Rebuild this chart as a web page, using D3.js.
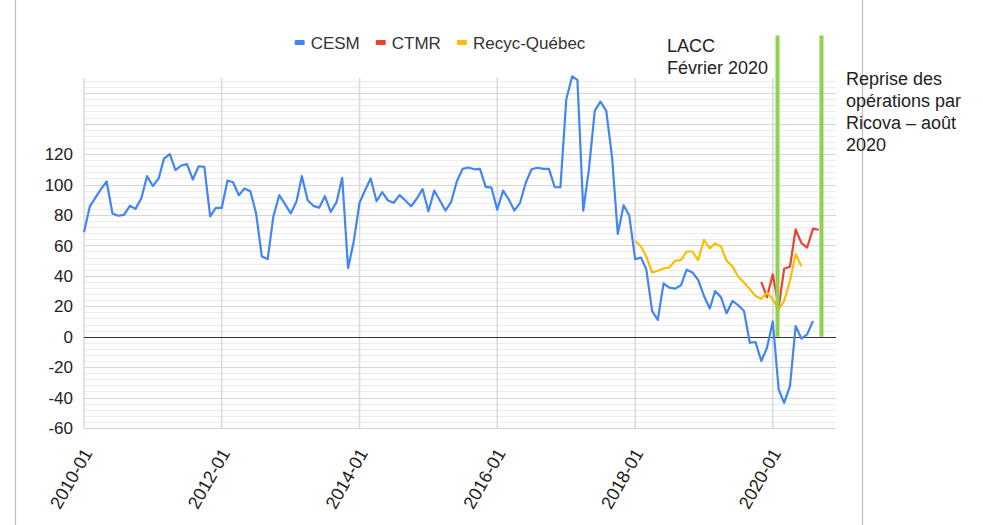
<!DOCTYPE html>
<html>
<head>
<meta charset="utf-8">
<script src="https://cdn.jsdelivr.net/npm/d3@7"></script>
<style>
  body { margin: 0; background: #fff; }
  text { font-family: "Liberation Sans", Arial, sans-serif; fill: #222; }
</style>
</head>
<body>
<div id="chart"></div>
<script>
// monthly values, starting month given per series
var cesmStart = "2010-01";
var cesm = [
  68.6, 85.7, 91, 97, 102, 81, 79.5, 80, 86, 84, 91, 105.5,
  99, 104, 117, 120, 109.5, 112.5, 113.4, 103.3, 112, 111.6, 79, 84.6,
  84.6, 102.6, 101.5, 93, 97.4, 95.6, 81.3, 52.7, 51, 79, 93, 87.3,
  81, 89, 105.5, 89.7, 86, 84.8, 92.3, 82, 88.4, 104.4, 45, 62.6,
  88, 96.7, 104, 89, 95, 89.5, 88, 93, 89.5, 85.7, 90.8, 97,
  82.4, 96, 90, 82.9, 88.4, 102.2, 110.3, 111.2, 110, 110.3, 98.5, 98,
  83.5, 96, 90.5, 82.9, 88, 101.5, 110, 111, 110.3, 110.3, 98.2, 98.2,
  156, 171, 168.8, 82.9, 110, 148.4, 154.5, 148.4, 117.6, 67.5, 86.4, 79.6,
  51, 52, 44.4, 17, 11, 35, 32.3, 31.6, 33.8, 44, 42.2, 37.4,
  26.8, 18.5, 30, 26, 15.4, 23.5, 20.7, 17, -4, -3.5, -16, -7.3,
  10, -34.7, -43.5, -32.5, 7, -1.3, 1.5, 10.3
];
var ctmrStart = "2019-11";
var ctmr = [36, 26, 41, 19, 44.6, 46, 70.5, 61.5, 58.5, 71, 70.3];
var recycStart = "2018-01";
var recyc = [
  63, 59.3, 52.7, 42.2, 43.3, 44.8, 45.5, 49.9, 50.3, 56, 56, 50.3,
  63.7, 58, 61.3, 59.3, 49.9, 46.2, 39.6, 35.6, 31.2, 26.8, 25, 29,
  24.6, 18, 23.5, 36.7, 54.3, 46.2
];
var seriesNames = ["CESM", "CTMR", "Recyc-Québec"];
var seriesColors = ["#4285f4", "#ea4335", "#fbbc04"];

var yTickValues = [-60, -40, -20, 0, 20, 40, 60, 80, 100, 120];
var xTickDates = ["2010-01", "2012-01", "2014-01", "2016-01", "2018-01", "2020-01"];

// vertical event markers
var markerDates = ["2020-01-26", "2020-09-15"];
var markerTop = 198;
var noteLacc = ["LACC", "Février 2020"];
var noteRicova = ["Reprise des", "opérations par", "Ricova – août", "2020"];

var W = 983, H = 525;
var margin = { top: 78, right: 147, bottom: 97, left: 84 };

var parseM = d3.timeParse("%Y-%m");
var parseD = d3.timeParse("%Y-%m-%d");

function toPoints(start, vals) {
  var s = parseM(start);
  return vals.map(function(v, i) {
    return { date: d3.timeMonth.offset(s, i), value: v };
  });
}
var series = [toPoints(cesmStart, cesm), toPoints(ctmrStart, ctmr), toPoints(recycStart, recyc)];

var xScale = d3.scaleTime()
    .domain([parseM("2010-01"), parseM("2020-12")])
    .range([margin.left, W - margin.right]);
var yScale = d3.scaleLinear()
    .domain([-60, 170])
    .range([H - margin.bottom, margin.top]);

var svg = d3.select("#chart").append("svg")
    .attr("width", W)
    .attr("height", H);

// page borders around the chart
svg.selectAll(".border").data([15.5, 862.5]).enter()
  .append("line")
    .attr("x1", function(d) { return d; })
    .attr("x2", function(d) { return d; })
    .attr("y1", 0).attr("y2", H)
    .attr("stroke", "#bdbdbd").attr("stroke-width", 1.2);

// gridlines
var minor = d3.range(-60, 171, 4);
var major = d3.range(-60, 171, 20);
svg.append("g").selectAll("line").data(minor).enter()
  .append("line")
    .attr("x1", xScale.range()[0]).attr("x2", xScale.range()[1])
    .attr("y1", function(d) { return Math.round(yScale(d)) + 0.5; })
    .attr("y2", function(d) { return Math.round(yScale(d)) + 0.5; })
    .attr("stroke", "#ececec");
svg.append("g").selectAll("line").data(major).enter()
  .append("line")
    .attr("x1", xScale.range()[0]).attr("x2", xScale.range()[1])
    .attr("y1", function(d) { return Math.round(yScale(d)) + 0.5; })
    .attr("y2", function(d) { return Math.round(yScale(d)) + 0.5; })
    .attr("stroke", "#d6d6d6");
svg.append("g").selectAll("line").data(xTickDates).enter()
  .append("line")
    .attr("x1", function(d) { return xScale(parseM(d)); })
    .attr("x2", function(d) { return xScale(parseM(d)); })
    .attr("y1", yScale.range()[1]).attr("y2", yScale.range()[0])
    .attr("stroke", "#d9d9d9").attr("stroke-width", 1.5);

// zero line
svg.append("line")
    .attr("x1", xScale.range()[0]).attr("x2", xScale.range()[1])
    .attr("y1", Math.round(yScale(0)) + 0.5).attr("y2", Math.round(yScale(0)) + 0.5)
    .attr("stroke", "#333").attr("stroke-width", 1);

// y labels
svg.append("g").selectAll("text").data(yTickValues).enter()
  .append("text")
    .attr("x", margin.left - 11)
    .attr("y", function(d) { return yScale(d); })
    .attr("dy", "0.36em")
    .attr("text-anchor", "end")
    .style("font-size", "17px")
    .text(function(d) { return d; });

// x labels, rotated
svg.append("g").selectAll("text").data(xTickDates).enter()
  .append("text")
    .attr("transform", function(d) {
      return "translate(" + (xScale(parseM(d)) + 9) + "," + (H - margin.bottom + 25) + ") rotate(-60)";
    })
    .attr("text-anchor", "end")
    .style("font-size", "18px")
    .text(function(d) { return d; });

// lines
var line = d3.line()
    .x(function(d) { return xScale(d.date); })
    .y(function(d) { return yScale(d.value); });

series.forEach(function(s, i) {
  svg.append("path")
      .datum(s)
      .attr("fill", "none")
      .attr("stroke", seriesColors[i])
      .attr("stroke-width", 2.2)
      .attr("stroke-linejoin", "round")
      .attr("d", line);
});

// event markers
svg.append("g").selectAll("line").data(markerDates).enter()
  .append("line")
    .attr("x1", function(d) { return xScale(parseD(d)); })
    .attr("x2", function(d) { return xScale(parseD(d)); })
    .attr("y1", yScale(markerTop)).attr("y2", yScale(0))
    .attr("stroke", "#92d050").attr("stroke-width", 4);

// annotations
svg.append("text")
    .attr("x", 667).attr("y", 52)
    .style("font-size", "18px")
    .selectAll("tspan").data(noteLacc).enter()
  .append("tspan")
    .attr("x", 667)
    .attr("dy", function(d, i) { return i ? 22 : 0; })
    .text(function(d) { return d; });

svg.append("text")
    .attr("x", 846).attr("y", 85)
    .style("font-size", "18px")
    .selectAll("tspan").data(noteRicova).enter()
  .append("tspan")
    .attr("x", 846)
    .attr("dy", function(d, i) { return i ? 22 : 0; })
    .text(function(d) { return d; });

// legend
var legend = svg.append("g");
var lx = 0;
seriesNames.forEach(function(name, i) {
  var g = legend.append("g").attr("transform", "translate(" + lx + ",0)");
  g.append("rect")
      .attr("x", 0).attr("y", -3)
      .attr("width", 10).attr("height", 5)
      .attr("rx", 1)
      .attr("fill", seriesColors[i]);
  var t = g.append("text")
      .attr("x", 16).attr("y", 0)
      .attr("dy", "0.35em")
      .style("font-size", "17px")
      .style("fill", "#333")
      .text(name);
  lx += 16 + t.node().getComputedTextLength() + 16;
});
var legendW = lx - 16;
legend.attr("transform", "translate(" + (440 - legendW / 2) + ",43)");
</script>
</body>
</html>
